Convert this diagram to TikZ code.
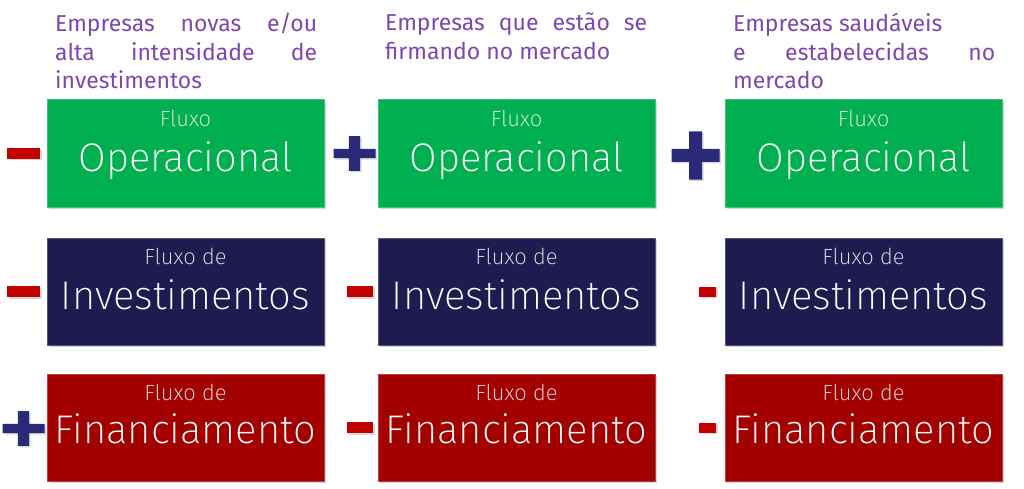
\documentclass[tikz,border=0pt]{standalone}
\usepackage{fontspec}
\setmainfont{Fira Sans}
\newfontfamily\lightfont{Fira Sans ExtraLight}
\usetikzlibrary{positioning,shadows}

\definecolor{opgreen}{RGB}{0,176,80}
\definecolor{invnavy}{RGB}{29,27,80}
\definecolor{finred}{RGB}{163,0,0}
\definecolor{minusred}{RGB}{196,0,0}
\definecolor{plusblue}{RGB}{42,42,120}
\definecolor{headpurple}{RGB}{128,70,176}

\tikzset{
  flowbox/.style={rectangle, minimum width=277pt, minimum height=107pt, inner sep=0pt, line width=1pt,
    drop shadow={shadow xshift=2pt, shadow yshift=-2pt, opacity=0.35}},
  opbox/.style={flowbox, fill=opgreen, draw=opgreen!75!white},
  invbox/.style={flowbox, fill=invnavy, draw=invnavy!75!white},
  finbox/.style={flowbox, fill=finred, draw=finred!75!white},
  smalltxt/.style={anchor=base, inner sep=0pt, text=white!92!black, font=\lightfont\fontsize{22}{24}\selectfont},
  bigtxt/.style={anchor=base, inner sep=0pt, text=white, font=\lightfont\fontsize{40}{44}\selectfont},
  head/.style={anchor=north west, inner sep=0pt, text width=262pt, align=justify, text=headpurple,
    font=\fontsize{23}{28.5}\selectfont},
  minus/.style={rectangle, fill=minusred, inner sep=0pt, minimum height=11pt,
    drop shadow={shadow xshift=1.5pt, shadow yshift=-1.5pt, opacity=0.3}},
  pics/plussign/.style={code={
    \fill[plusblue, drop shadow={shadow xshift=1.5pt, shadow yshift=-1.5pt, opacity=0.3}]
      (-24,-6.5) -- (-6.5,-6.5) -- (-6.5,-24) -- (6.5,-24) -- (6.5,-6.5) -- (24,-6.5)
      -- (24,6.5) -- (6.5,6.5) -- (6.5,24) -- (-6.5,24) -- (-6.5,6.5) -- (-24,6.5) -- cycle;
  }}
}

\begin{document}
\begin{tikzpicture}[x=1pt, y=-1pt]
\useasboundingbox (0,0) rectangle (1024,489);

% column headers
\node[head] (h1) at (55,13) {Empresas novas e/ou\linebreak alta intensidade de\linebreak investimentos};
\node[head] (h2) at (385,13) {Empresas que estão se\linebreak firmando no mercado};
\node[head] (h3) at (733,13) {Empresas saudáveis\\e estabelecidas no\linebreak mercado};

% boxes
\node[opbox] (b11) at (185.5,153.5) {};
\node[opbox,right=53pt of b11] (b12) {};
\node[opbox,right=69pt of b12] (b13) {};
\node[invbox,below=30pt of b11] (b21) {};
\node[invbox,below=30pt of b12] (b22) {};
\node[invbox,below=30pt of b13] (b23) {};
\node[finbox,below=28pt of b21] (b31) {};
\node[finbox,below=28pt of b22] (b32) {};
\node[finbox,below=28pt of b23] (b33) {};

% box texts
\node[smalltxt] (s11) at ([yshift=-27pt]b11.north) {Fluxo};
\node[bigtxt] (w11) at ([yshift=-72pt]b11.north) {Operacional};
\node[smalltxt] (s12) at ([yshift=-27pt]b12.north) {Fluxo};
\node[bigtxt] (w12) at ([yshift=-72pt]b12.north) {Operacional};
\node[smalltxt] (s13) at ([yshift=-27pt]b13.north) {Fluxo};
\node[bigtxt] (w13) at ([yshift=-72pt]b13.north) {Operacional};
\node[smalltxt] (s21) at ([yshift=-27pt]b21.north) {Fluxo de};
\node[bigtxt] (w21) at ([yshift=-72pt]b21.north) {Investimentos};
\node[smalltxt] (s22) at ([yshift=-27pt]b22.north) {Fluxo de};
\node[bigtxt] (w22) at ([yshift=-72pt]b22.north) {Investimentos};
\node[smalltxt] (s23) at ([yshift=-27pt]b23.north) {Fluxo de};
\node[bigtxt] (w23) at ([yshift=-72pt]b23.north) {Investimentos};
\node[smalltxt] (s31) at ([yshift=-27pt]b31.north) {Fluxo de};
\node[bigtxt] (w31) at ([yshift=-70pt]b31.north) {Financiamento};
\node[smalltxt] (s32) at ([yshift=-27pt]b32.north) {Fluxo de};
\node[bigtxt] (w32) at ([yshift=-70pt]b32.north) {Financiamento};
\node[smalltxt] (s33) at ([yshift=-27pt]b33.north) {Fluxo de};
\node[bigtxt] (w33) at ([yshift=-70pt]b33.north) {Financiamento};

% signs
\node[minus,minimum width=33pt,left=6pt of b11] (m11) {};
\pic[xscale=0.875,yscale=0.72] (p12) at ([xshift=-23pt]b12.west) {plussign};
\pic (p13) at ([xshift=-29pt,yshift=-2pt]b13.west) {plussign};
\node[minus,minimum width=33pt,left=6pt of b21] (m21) {};
\node[minus,minimum width=26pt,left=4pt of b22] (m22) {};
\node[minus,minimum width=17pt,minimum height=10pt,left=8pt of b23] (m23) {};
\pic[xscale=0.875,yscale=0.72] (p31) at ([xshift=-23pt,yshift=-1pt]b31.west) {plussign};
\node[minus,minimum width=26pt,left=4pt of b32] (m32) {};
\node[minus,minimum width=17pt,minimum height=10pt,left=8pt of b33] (m33) {};
\end{tikzpicture}
\end{document}
